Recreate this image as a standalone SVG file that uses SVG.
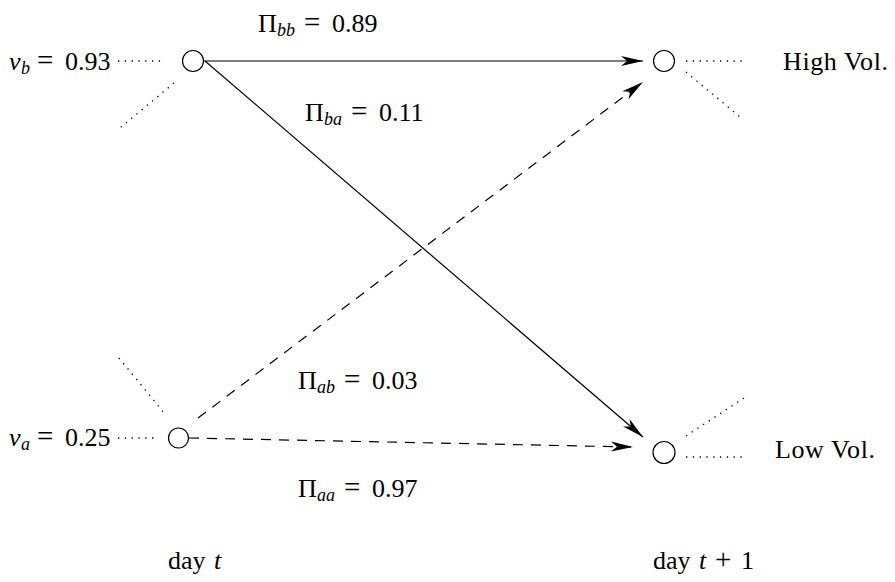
<svg xmlns="http://www.w3.org/2000/svg" width="895" height="582" viewBox="0 0 895 582">
<style>
text{font-family:"Liberation Serif","DejaVu Serif",serif;font-size:26px;fill:#000}
.it{font-style:italic}
.sub{font-style:italic;font-size:18px}
.op{font-size:29px}
.node{fill:#fff;stroke:#000;stroke-width:1.2}
.solid{stroke:#000;stroke-width:1.2;fill:none}
.dash{stroke:#000;stroke-width:1.2;fill:none;stroke-dasharray:10 8}
.dot{stroke:#000;stroke-width:1.3;fill:none;stroke-dasharray:1.3 5.5}
</style>
<defs>
<marker id="ah" markerUnits="userSpaceOnUse" markerWidth="30" markerHeight="14" viewBox="-24 -7 26 14" refX="0" refY="0" orient="auto">
<path d="M0,0 L-22,-5 L-16,0 L-22,5 Z" fill="#000"/>
</marker>
</defs>
<g id="connectors">
<line class="solid" x1="204" y1="61" x2="643" y2="61" marker-end="url(#ah)"/>
<line class="solid" x1="205" y1="61" x2="643" y2="437" marker-end="url(#ah)"/>
<line class="dash" x1="198" y1="418" x2="643" y2="82" marker-end="url(#ah)"/>
<line class="dash" x1="189" y1="438" x2="633" y2="447" marker-end="url(#ah)"/>
</g>
<g id="dotted">
<line class="dot" x1="118" y1="61" x2="165" y2="61"/>
<line class="dot" x1="174" y1="83" x2="120" y2="128"/>
<line class="dot" x1="686" y1="61" x2="742" y2="61"/>
<line class="dot" x1="686" y1="72" x2="740" y2="117"/>
<line class="dot" x1="119" y1="358" x2="165" y2="414"/>
<line class="dot" x1="118" y1="438" x2="157" y2="438"/>
<line class="dot" x1="686" y1="436" x2="744" y2="398"/>
<line class="dot" x1="686" y1="457" x2="742" y2="457"/>
</g>
<g id="node-b"><circle class="node" cx="193" cy="61" r="10.5"/></g>
<g id="node-high"><circle class="node" cx="664" cy="61" r="10.5"/></g>
<g id="node-a"><circle class="node" cx="178.5" cy="438" r="10"/></g>
<g id="node-low"><circle class="node" cx="664" cy="452.5" r="11"/></g>
<g id="labels">
<text y="70"><tspan class="it" x="9">v</tspan><tspan class="sub" x="21" dy="4">b</tspan><tspan class="op" x="37" dy="-4">=</tspan><tspan x="65">0.93</tspan></text>
<text y="446"><tspan class="it" x="9">v</tspan><tspan class="sub" x="21" dy="4">a</tspan><tspan class="op" x="37" dy="-4">=</tspan><tspan x="65">0.25</tspan></text>
<text y="32"><tspan x="258">Π</tspan><tspan class="sub" x="277" dy="4">bb</tspan><tspan class="op" x="304" dy="-4">=</tspan><tspan x="332">0.89</tspan></text>
<text y="121"><tspan x="305">Π</tspan><tspan class="sub" x="324" dy="4">ba</tspan><tspan class="op" x="351" dy="-4">=</tspan><tspan x="379">0.11</tspan></text>
<text y="389"><tspan x="298">Π</tspan><tspan class="sub" x="317" dy="4">ab</tspan><tspan class="op" x="344" dy="-4">=</tspan><tspan x="372">0.03</tspan></text>
<text y="497"><tspan x="298">Π</tspan><tspan class="sub" x="317" dy="4">aa</tspan><tspan class="op" x="344" dy="-4">=</tspan><tspan x="372">0.97</tspan></text>
<text x="783" y="70" letter-spacing="0.6">High Vol.</text>
<text x="775" y="458" letter-spacing="0.6">Low Vol.</text>
<text y="569"><tspan x="168">day</tspan><tspan class="it" x="214">t</tspan></text>
<text y="569"><tspan x="653">day</tspan><tspan class="it" x="699">t</tspan><tspan class="op" x="715">+</tspan><tspan x="741">1</tspan></text>
</g>
</svg>
